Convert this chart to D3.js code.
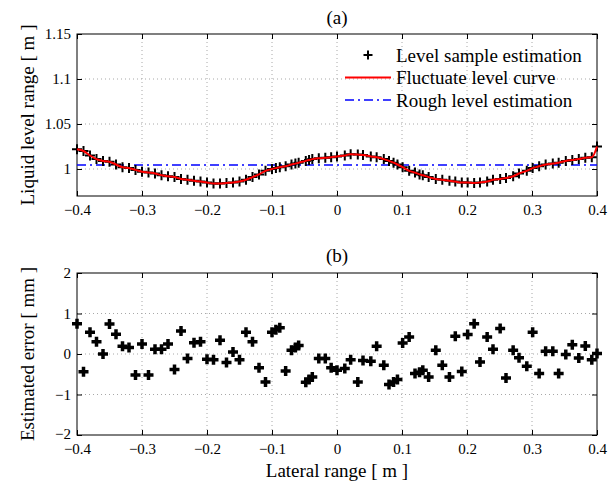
<!DOCTYPE html>
<html>
<head>
<meta charset="utf-8">
<script src="https://cdn.jsdelivr.net/npm/d3@7"></script>
<style>
    body { margin: 0; background: #fff; }
    svg text { font-family: "Liberation Serif", "DejaVu Serif", serif; fill: #000; }
</style>
</head>
<body>
<svg id="chart" width="616" height="485"></svg>
<script>
// lateral positions of the samples [m]
const lateral = [
    -0.400, -0.390, -0.380, -0.370, -0.360, -0.350, -0.340, -0.330, -0.320, -0.310,
    -0.300, -0.290, -0.280, -0.270, -0.260, -0.250, -0.240, -0.230, -0.220, -0.210,
    -0.200, -0.190, -0.180, -0.170, -0.160, -0.150, -0.140, -0.130, -0.120, -0.110,
    -0.100, -0.094, -0.088, -0.079, -0.070, -0.064, -0.059, -0.048, -0.043, -0.038,
    -0.028, -0.018, -0.009, 0.000, 0.012, 0.021, 0.032, 0.040, 0.052, 0.061,
    0.072, 0.080, 0.087, 0.093, 0.101, 0.111, 0.120, 0.127, 0.132, 0.141,
    0.152, 0.162, 0.173, 0.182, 0.192, 0.201, 0.211, 0.220, 0.231, 0.240,
    0.251, 0.260, 0.271, 0.280, 0.292, 0.301, 0.311, 0.321, 0.332, 0.341,
    0.352, 0.362, 0.372, 0.382, 0.392, 0.400
];

// level sample estimation [m]
const levelSamples = [
    1.022, 1.020, 1.015, 1.011, 1.009, 1.008, 1.005, 1.002, 1.001, 0.999,
    0.997, 0.996, 0.995, 0.993, 0.992, 0.991, 0.989, 0.988, 0.987, 0.986,
    0.985, 0.984, 0.984, 0.9845, 0.985, 0.986, 0.988, 0.991, 0.994, 0.998,
    1.000, 1.001, 1.002, 1.003, 1.005, 1.006, 1.007, 1.009, 1.010, 1.011,
    1.012, 1.0125, 1.013, 1.014, 1.015, 1.0165, 1.016, 1.0155, 1.014, 1.013,
    1.011, 1.009, 1.007, 1.005, 1.002, 0.998, 0.996, 0.994, 0.993, 0.991,
    0.989, 0.988, 0.987, 0.986, 0.985, 0.985, 0.9845, 0.985, 0.986, 0.988,
    0.989, 0.990, 0.992, 0.995, 0.998, 1.001, 1.003, 1.005, 1.006, 1.007,
    1.009, 1.010, 1.011, 1.0125, 1.013, 1.025
];

// rough (constant) level estimation [m]
const roughLevel = 1.0045;

// estimated error [mm]
const errors = [
    0.75, -0.44, 0.54, 0.30, 0.00, 0.74, 0.49, 0.19, 0.16, -0.52,
    0.25, -0.52, 0.12, 0.12, 0.25, -0.38, 0.57, -0.11, 0.28, 0.30,
    -0.13, -0.14, 0.34, -0.21, 0.05, -0.14, 0.54, 0.30, -0.34, -0.69,
    0.54, 0.60, 0.65, -0.42, 0.09, 0.16, 0.21, -0.70, -0.63, -0.57,
    -0.11, -0.11, -0.34, -0.40, -0.36, -0.14, -0.69, -0.16, -0.18, 0.19,
    -0.28, -0.75, -0.69, -0.63, 0.27, 0.42, -0.48, -0.45, -0.40, -0.57,
    0.09, -0.28, -0.57, 0.44, -0.43, 0.48, 0.75, -0.20, 0.42, 0.12,
    0.63, -0.59, 0.09, -0.09, -0.30, 0.54, -0.48, 0.07, 0.07, -0.48,
    -0.01, 0.23, -0.10, 0.20, -0.14, 0.01
];

const xTicks = [-0.4, -0.3, -0.2, -0.1, 0, 0.1, 0.2, 0.3, 0.4];
const levelTicks = [1, 1.05, 1.1, 1.15];
const errorTicks = [-2, -1, 0, 1, 2];
const legendLabels = ['Level sample estimation', 'Fluctuate level curve', 'Rough level estimation'];

const svg = d3.select('#chart');
const left = 77, right = 597;
const serif = '"Liberation Serif", "DejaVu Serif", serif';
const fmt = d => String(d).replace('-', '\u2212');

function drawFrame(g, x, y, xt, yt, height) {
    // dotted grid
    g.append('g').selectAll('line').data(xt.slice(1, -1)).join('line')
        .attr('x1', d => x(d)).attr('x2', d => x(d))
        .attr('y1', 0).attr('y2', height)
        .attr('stroke', '#a8a8a8').attr('stroke-dasharray', '1,3');
    g.append('g').selectAll('line').data(yt.filter(d => y(d) > 1 && y(d) < height - 1)).join('line')
        .attr('x1', x.range()[0]).attr('x2', x.range()[1])
        .attr('y1', d => y(d)).attr('y2', d => y(d))
        .attr('stroke', '#a8a8a8').attr('stroke-dasharray', '1,3');

    g.append('g').attr('transform', `translate(0,${height})`)
        .call(d3.axisBottom(x).tickValues(xt).tickFormat(fmt).tickSize(-5).tickSizeOuter(0).tickPadding(8))
        .attr('font-family', serif).attr('font-size', 15);
    g.append('g')
        .call(d3.axisTop(x).tickValues(xt).tickFormat('').tickSize(-5).tickSizeOuter(0));
    let yAxis = g.append('g')
        .call(d3.axisLeft(y).tickValues(yt).tickFormat(fmt).tickSize(-5).tickSizeOuter(0).tickPadding(6))
        .attr('font-family', serif).attr('font-size', 15);
    // lowest y label sits just above the x labels, as in the original
    yAxis.selectAll('.tick text').filter(d => y(d) >= height - 1).attr('dy', '0.2em');
    g.append('g').attr('transform', `translate(${right - left},0)`)
        .call(d3.axisRight(y).tickValues(yt).tickFormat('').tickSize(-5).tickSizeOuter(0));

    g.selectAll('.domain').remove();
    g.selectAll('.tick line').attr('stroke', '#000');

    g.append('rect').attr('width', right - left).attr('height', height)
        .attr('fill', 'none').attr('stroke', '#000').attr('stroke-width', 1);
}

function plus(size) {
    return `M${-size / 2},0H${size / 2}M0,${-size / 2}V${size / 2}`;
}

// ---- (a) level plot
const topH = 162;
const ga = svg.append('g').attr('transform', `translate(${left},34)`);
const xa = d3.scaleLinear().domain([-0.4, 0.4]).range([0, right - left]);
const ya = d3.scaleLinear().domain([0.97, 1.15]).range([topH, 0]);
drawFrame(ga, xa, ya, xTicks, levelTicks, topH);

ga.append('line')
    .attr('x1', xa(-0.4)).attr('x2', xa(0.4))
    .attr('y1', ya(roughLevel)).attr('y2', ya(roughLevel))
    .attr('stroke', '#0000ff').attr('stroke-width', 1.5).attr('stroke-dasharray', '9,4,2,4');

// black sample crosses first, red curve on top of them
ga.append('g').selectAll('path').data(lateral).join('path')
    .attr('transform', (d, i) => `translate(${xa(d)},${ya(levelSamples[i])})`)
    .attr('d', plus(10)).attr('stroke', '#000').attr('stroke-width', 2);

let levelLine = d3.line()
    .curve(d3.curveMonotoneX)
    .x(d => xa(d[0]))
    .y(d => ya(d[1]));

ga.append('path')
    .datum(lateral.map((d, i) => [d, levelSamples[i]]))
    .attr('fill', 'none').attr('stroke', '#ff0000').attr('stroke-width', 2)
    .attr('d', levelLine);

// legend
const legend = svg.append('g');
legendLabels.forEach((label, i) => {
    let cy = 55 + i * 22.5;
    legend.append('text').attr('x', 396).attr('y', cy + 6.5)
        .style('font-size', '19px').text(label);
});
legend.append('path').attr('transform', 'translate(368,55)')
    .attr('d', plus(9)).attr('stroke', '#000').attr('stroke-width', 2);
legend.append('line').attr('x1', 345).attr('x2', 391).attr('y1', 77.5).attr('y2', 77.5)
    .attr('stroke', '#ff0000').attr('stroke-width', 2);
legend.append('line').attr('x1', 345).attr('x2', 391).attr('y1', 100).attr('y2', 100)
    .attr('stroke', '#0000ff').attr('stroke-width', 1.5).attr('stroke-dasharray', '9,4,2,4');

// ---- (b) error plot
const botH = 162;
const gb = svg.append('g').attr('transform', `translate(${left},273)`);
const xb = d3.scaleLinear().domain([-0.4, 0.4]).range([0, right - left]);
const yb = d3.scaleLinear().domain([-2, 2]).range([botH, 0]);
drawFrame(gb, xb, yb, xTicks, errorTicks, botH);

gb.append('g').selectAll('path').data(lateral).join('path')
    .attr('transform', (d, i) => `translate(${xb(d)},${yb(errors[i])})`)
    .attr('d', plus(10)).attr('stroke', '#000').attr('stroke-width', 3.5);

// titles and axis labels
const mid = (left + right) / 2;
svg.append('text').attr('x', mid).attr('y', 24).attr('text-anchor', 'middle')
    .style('font-size', '19px').text('(a)');
svg.append('text').attr('x', mid).attr('y', 262).attr('text-anchor', 'middle')
    .style('font-size', '19px').text('(b)');
svg.append('text').attr('x', mid).attr('y', 477).attr('text-anchor', 'middle')
    .style('font-size', '19px').text('Lateral range [ m ]');
svg.append('text').attr('transform', `translate(34,${34 + topH / 2}) rotate(-90)`)
    .attr('text-anchor', 'middle').style('font-size', '19px').text('Liquid level range [ m ]');
svg.append('text').attr('transform', `translate(34,${273 + botH / 2}) rotate(-90)`)
    .attr('text-anchor', 'middle').style('font-size', '19px').text('Estimated error [ mm ]');
</script>
</body>
</html>
